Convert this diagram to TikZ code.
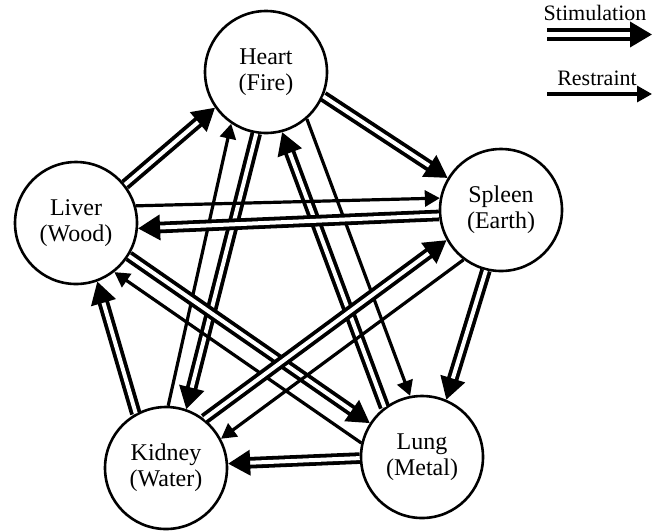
\documentclass[tikz,border=0pt]{standalone}
\usepackage{fontspec}
\setmainfont{Liberation Serif}
\usetikzlibrary{arrows.meta}

\begin{document}
\begin{tikzpicture}[x=1pt,y=1pt,
	organ/.style={draw=black,circle,line width=2.6pt,minimum size=122pt,align=center,font=\fontsize{24}{26}\selectfont},
	stim/.style={draw=black,double=white,line width=3.8pt,double distance=4pt,-{Triangle[length=22pt,width=25pt]}},
	restr/.style={draw=black,line width=3.2pt,-{Triangle[length=15pt,width=16pt]}},
	keytext/.style={font=\fontsize{22}{25}\selectfont}]
	\tikzstyle{every node}+=[inner sep=0pt]
	\useasboundingbox (0,0) rectangle (652,-531);
	\node [organ] (heart) at (266,-72) {Heart\\(Fire)};
	\node [organ] (liver) at (76,-223) {Liver\\(Wood)};
	\node [organ] (spleen) at (501,-210) {Spleen\\(Earth)};
	\node [organ] (lung) at (422,-457) {Lung\\(Metal)};
	\node [organ] (kidney) at (166,-468) {Kidney\\(Water)};
	\draw [stim] (liver.38) -- (heart.215);
	\draw [stim] (heart.337) -- (spleen.149);
	\draw [stim] (spleen.256) -- (lung.67);
	\draw [stim] (lung.181) -- (kidney.4);
	\draw [stim] (kidney.119) -- (liver.290);
	\draw [restr] (kidney.88) -- (heart.236);
	\draw [stim] (heart.261) -- (kidney.71);
	\draw [stim] (lung.127) -- (heart.285);
	\draw [restr] (heart.311) -- (lung.101);
	\draw [restr] (liver.16) -- (spleen.169);
	\draw [stim] (spleen.185) -- (liver.355);
	\draw [stim] (liver.328) -- (lung.147);
	\draw [restr] (lung.167) -- (liver.308);
	\draw [stim] (kidney.52) -- (spleen.209);
	\draw [restr] (spleen.233) -- (kidney.28);
	\node [keytext] (stimkey) at (595,-13) {Stimulation};
	\node [keytext] (restrkey) at (597,-78) {Restraint};
	\coordinate (stimfrom) at (547,-34.5);
	\coordinate (stimto) at (652,-34.5);
	\coordinate (restrfrom) at (547,-94);
	\coordinate (restrto) at (652,-94);
	\draw [stim,double distance=5pt] (stimfrom) -- (stimto);
	\draw [restr] (restrfrom) -- (restrto);
\end{tikzpicture}
\end{document}
